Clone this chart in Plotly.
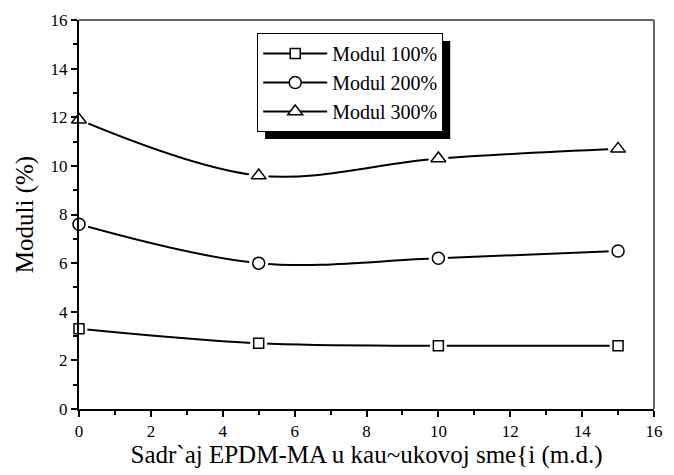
import plotly.graph_objects as go

x_vals = [0, 5, 10, 15]
modul_100 = [3.3, 2.7, 2.6, 2.6]
modul_200 = [7.6, 6.0, 6.2, 6.5]
modul_300 = [11.9, 9.6, 10.3, 10.7]
series_names = ["Modul 100%", "Modul 200%", "Modul 300%"]
symbols = ["square", "circle", "triangle-up"]
sizes = [10, 12, 13]

FONT = "Times New Roman, Liberation Serif, DejaVu Serif, serif"
fig = go.Figure()
for name, ys, sym, sz in zip(series_names, [modul_100, modul_200, modul_300], symbols, sizes):
    fig.add_trace(go.Scatter(x=x_vals, y=ys, mode="lines+markers", name=name,
                             line=dict(color="black", width=2, shape="spline", smoothing=1.0),
                             marker=dict(symbol=sym, size=sz, color="white",
                                         line=dict(color="black", width=1.5)),
                             cliponaxis=False))
    fig.add_trace(go.Scatter(x=x_vals, y=ys, mode="markers", showlegend=False, hoverinfo="skip",
                             marker=dict(symbol="circle", size=sz + 7, color="white",
                                         line=dict(width=0)), cliponaxis=False))
    fig.add_trace(go.Scatter(x=x_vals, y=ys, mode="markers", showlegend=False,
                             marker=dict(symbol=sym, size=sz, color="white",
                                         line=dict(color="black", width=1.5)), cliponaxis=False))

axis_common = dict(showgrid=False, zeroline=False, showline=True, linecolor="black", linewidth=2,
                   ticks="outside", ticklen=6, tickwidth=1.5, tickcolor="black",
                   tickfont=dict(family=FONT, size=17, color="black"),
                   minor=dict(ticks="outside", ticklen=4, tickwidth=1.5, tickcolor="black", dtick=1))

fig.update_xaxes(range=[0, 16], dtick=2, tick0=0,
                 title=dict(text="Sadr`aj EPDM-MA u kau~ukovoj sme{i (m.d.)",
                            font=dict(family=FONT, size=25, color="black"), standoff=4),
                 **axis_common)
fig.update_yaxes(range=[0, 16], dtick=2, tick0=0,
                 title=dict(text="Moduli (%)", font=dict(family=FONT, size=25, color="black"), standoff=10),
                 **axis_common)

# top/right frame and legend shadow (pixels converted to paper coords)
def px_x(p):
    return (p - 79) / 584

def px_y(p):
    return (409 - p) / 389

fig.add_shape(type="line", xref="paper", yref="paper", x0=0, x1=1, y0=1, y1=1,
              line=dict(color="#666666", width=2))
fig.add_shape(type="line", xref="paper", yref="paper", x0=1, x1=1, y0=0, y1=1,
              line=dict(color="#666666", width=2))
fig.add_shape(type="rect", xref="paper", yref="paper",
              x0=px_x(268), x1=px_x(456), y0=px_y(139), y1=px_y(41),
              fillcolor="black", line=dict(width=0), layer="above")

fig.update_layout(
    width=674, height=475,
    margin=dict(l=79, r=11, t=20, b=66),
    plot_bgcolor="white", paper_bgcolor="white",
    font=dict(family=FONT, color="black"),
    showlegend=True,
    legend=dict(x=px_x(260), y=px_y(33), xanchor="left", yanchor="top",
                bgcolor="white", bordercolor="black", borderwidth=1,
                font=dict(family=FONT, size=20, color="black"),
                tracegroupgap=0, itemwidth=64),
)

fig.write_html("out.html")
